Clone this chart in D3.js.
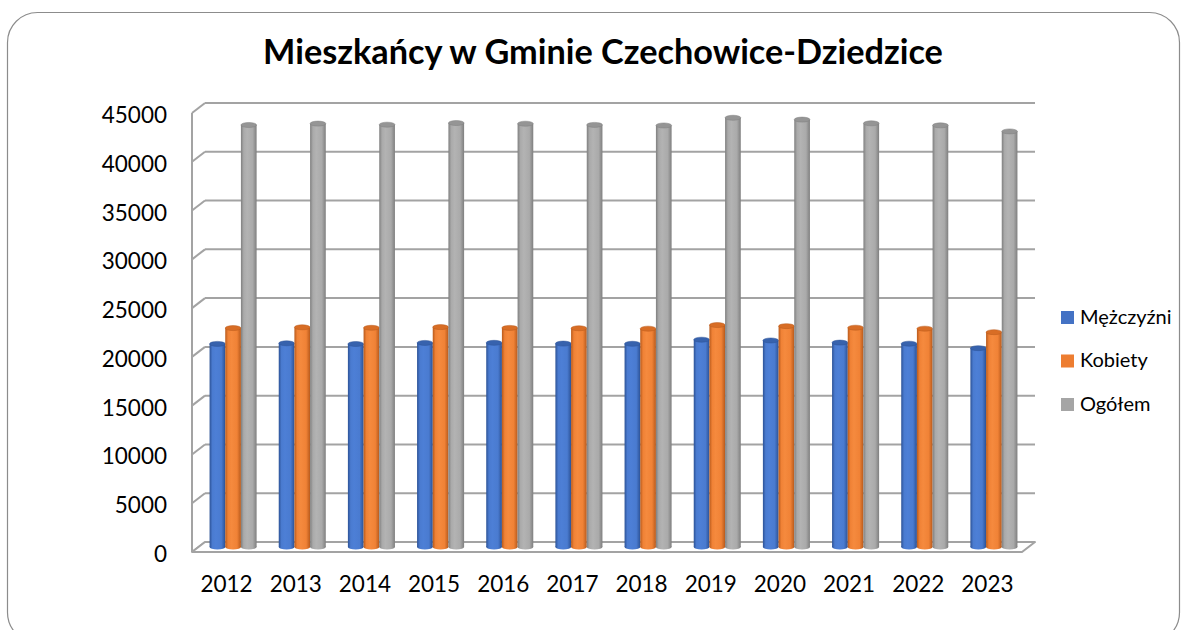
<!DOCTYPE html>
<html>
<head>
<meta charset="utf-8">
<script src="https://cdn.jsdelivr.net/npm/d3@7"></script>
<style>
  html, body { margin: 0; padding: 0; background: #fff; }
  svg { display: block; }
</style>
</head>
<body>
<svg id="chart" width="1189" height="630"></svg>
<script>
const title = "Mieszkańcy w Gminie Czechowice-Dziedzice";
const years = ["2012","2013","2014","2015","2016","2017","2018","2019","2020","2021","2022","2023"];
const seriesNames = ["Mężczyźni", "Kobiety", "Ogółem"];
const men   = [20820, 20880, 20810, 20920, 20930, 20850, 20830, 21250, 21170, 20950, 20840, 20380];
const women = [22440, 22520, 22470, 22540, 22460, 22420, 22380, 22750, 22640, 22480, 22380, 22020];
const total = [43260, 43400, 43290, 43460, 43390, 43270, 43210, 44000, 43810, 43430, 43220, 42600];
const yTicks = [0, 5000, 10000, 15000, 20000, 25000, 30000, 35000, 40000, 45000];
const colors = ["#4472C4", "#ED7D31", "#A5A5A5"];

const svg = d3.select("#chart");

// outer chart border
svg.append("rect")
  .attr("x", 7.5).attr("y", 12.5).attr("width", 1172).attr("height", 630)
  .attr("rx", 30).attr("ry", 30)
  .attr("fill", "#fff").attr("stroke", "#8c8c8c").attr("stroke-width", 1.2);

// geometry
const frontLeft = 192, frontRight = 1022;
const depthX = 13, depthY = -10;
const y = d3.scaleLinear().domain([0, 45000]).range([552, 113]);
const x0 = d3.scaleBand().domain(years).range([frontLeft, frontRight]).paddingInner(0.32).paddingOuter(0.16);
const xOuter = d3.scaleBand().domain(years).range([frontLeft, frontRight]);
const x1 = d3.scaleBand().domain(seriesNames).range([0, x0.bandwidth()]);

const gridColor = "#a3a3a3";

// back wall gridlines
svg.append("g").selectAll("line").data(yTicks).join("line")
  .attr("x1", frontLeft + depthX).attr("x2", frontRight + depthX)
  .attr("y1", d => y(d) + depthY).attr("y2", d => y(d) + depthY)
  .attr("stroke", gridColor).attr("stroke-width", 2);

// side wall diagonals
svg.append("g").selectAll("line").data(yTicks).join("line")
  .attr("x1", frontLeft).attr("x2", frontLeft + depthX)
  .attr("y1", d => y(d)).attr("y2", d => y(d) + depthY)
  .attr("stroke", gridColor).attr("stroke-width", 2);

// front-left axis line
svg.append("line")
  .attr("x1", frontLeft).attr("x2", frontLeft)
  .attr("y1", y(45000)).attr("y2", y(0))
  .attr("stroke", gridColor).attr("stroke-width", 2);

// floor
svg.append("path")
  .attr("d", `M${frontLeft},${y(0)} L${frontRight},${y(0)} L${frontRight + depthX},${y(0) + depthY} L${frontLeft + depthX},${y(0) + depthY} Z`)
  .attr("fill", "#fff").attr("stroke", gridColor).attr("stroke-width", 2).attr("stroke-linejoin", "round");

// gradients for cylinders
const defs = svg.append("defs");
const shades = [
  { dark: "#2c5296", mid: "#4d7fd6", light: "#4a7bd0" },
  { dark: "#b85a1c", mid: "#f58a3e", light: "#f08236" },
  { dark: "#7f7f7f", mid: "#b3b3b3", light: "#aaaaaa" }
];
const topFills = ["#3762ad", "#d86d25", "#959595"];
shades.forEach((s, i) => {
  const g = defs.append("linearGradient").attr("id", "grad" + i)
    .attr("x1", "0%").attr("x2", "100%").attr("y1", "0%").attr("y2", "0%");
  g.append("stop").attr("offset", "0%").attr("stop-color", s.dark);
  g.append("stop").attr("offset", "18%").attr("stop-color", s.light);
  g.append("stop").attr("offset", "40%").attr("stop-color", s.mid);
  g.append("stop").attr("offset", "75%").attr("stop-color", s.light);
  g.append("stop").attr("offset", "100%").attr("stop-color", s.dark);
});

// bars (cylinders) at mid depth
const series = [men, women, total];
const ry = 2.5;
const midDX = depthX / 2, midDY = depthY / 2;
const barsG = svg.append("g");
years.forEach((yr, i) => {
  seriesNames.forEach((name, s) => {
    const v = series[s][i];
    const bx = x0(yr) + x1(name) + midDX;
    const bw = x1.bandwidth();
    const cx = bx + bw / 2;
    const yTop = y(v) + midDY;
    const yBase = y(0) + midDY;
    const g = barsG.append("g");
    g.append("ellipse").attr("cx", cx).attr("cy", yBase).attr("rx", bw / 2).attr("ry", ry)
      .attr("fill", `url(#grad${s})`);
    g.append("rect").attr("x", bx).attr("y", yTop).attr("width", bw).attr("height", yBase - yTop)
      .attr("fill", `url(#grad${s})`);
    g.append("ellipse").attr("cx", cx).attr("cy", yTop).attr("rx", bw / 2).attr("ry", ry)
      .attr("fill", topFills[s]).attr("stroke", shades[s].dark).attr("stroke-width", 0.5);
  });
});

// y-axis labels
const fontFam = "Lato, 'Open Sans', sans-serif";
svg.append("g").selectAll("text").data(yTicks).join("text")
  .attr("x", 167).attr("y", d => y(d) + 10)
  .attr("text-anchor", "end")
  .attr("font-family", fontFam).attr("font-size", 22.5).attr("fill", "#000")
  .text(d => d);

// x-axis labels
svg.append("g").selectAll("text").data(years).join("text")
  .attr("x", d => xOuter(d) + xOuter.bandwidth() / 2).attr("y", 592)
  .attr("text-anchor", "middle")
  .attr("font-family", fontFam).attr("font-size", 22.5).attr("fill", "#000")
  .text(d => d);

// title
const t = svg.append("text")
  .attr("x", 603).attr("y", 64)
  .attr("text-anchor", "middle")
  .attr("font-family", fontFam).attr("font-weight", "bold").attr("font-size", 28).attr("fill", "#000")
  .text(title);
const tw = t.node().getComputedTextLength();
t.attr("font-size", 28 * 680 / tw);

// legend
const legend = svg.append("g");
seriesNames.forEach((name, i) => {
  const ly = 311 + i * 43.5;
  legend.append("rect").attr("x", 1061).attr("y", ly).attr("width", 13).attr("height", 13).attr("fill", colors[i]);
  legend.append("text").attr("x", 1080).attr("y", ly + 12.5)
    .attr("font-family", fontFam).attr("font-size", 20).attr("fill", "#000")
    .text(name);
});
</script>
</body>
</html>
